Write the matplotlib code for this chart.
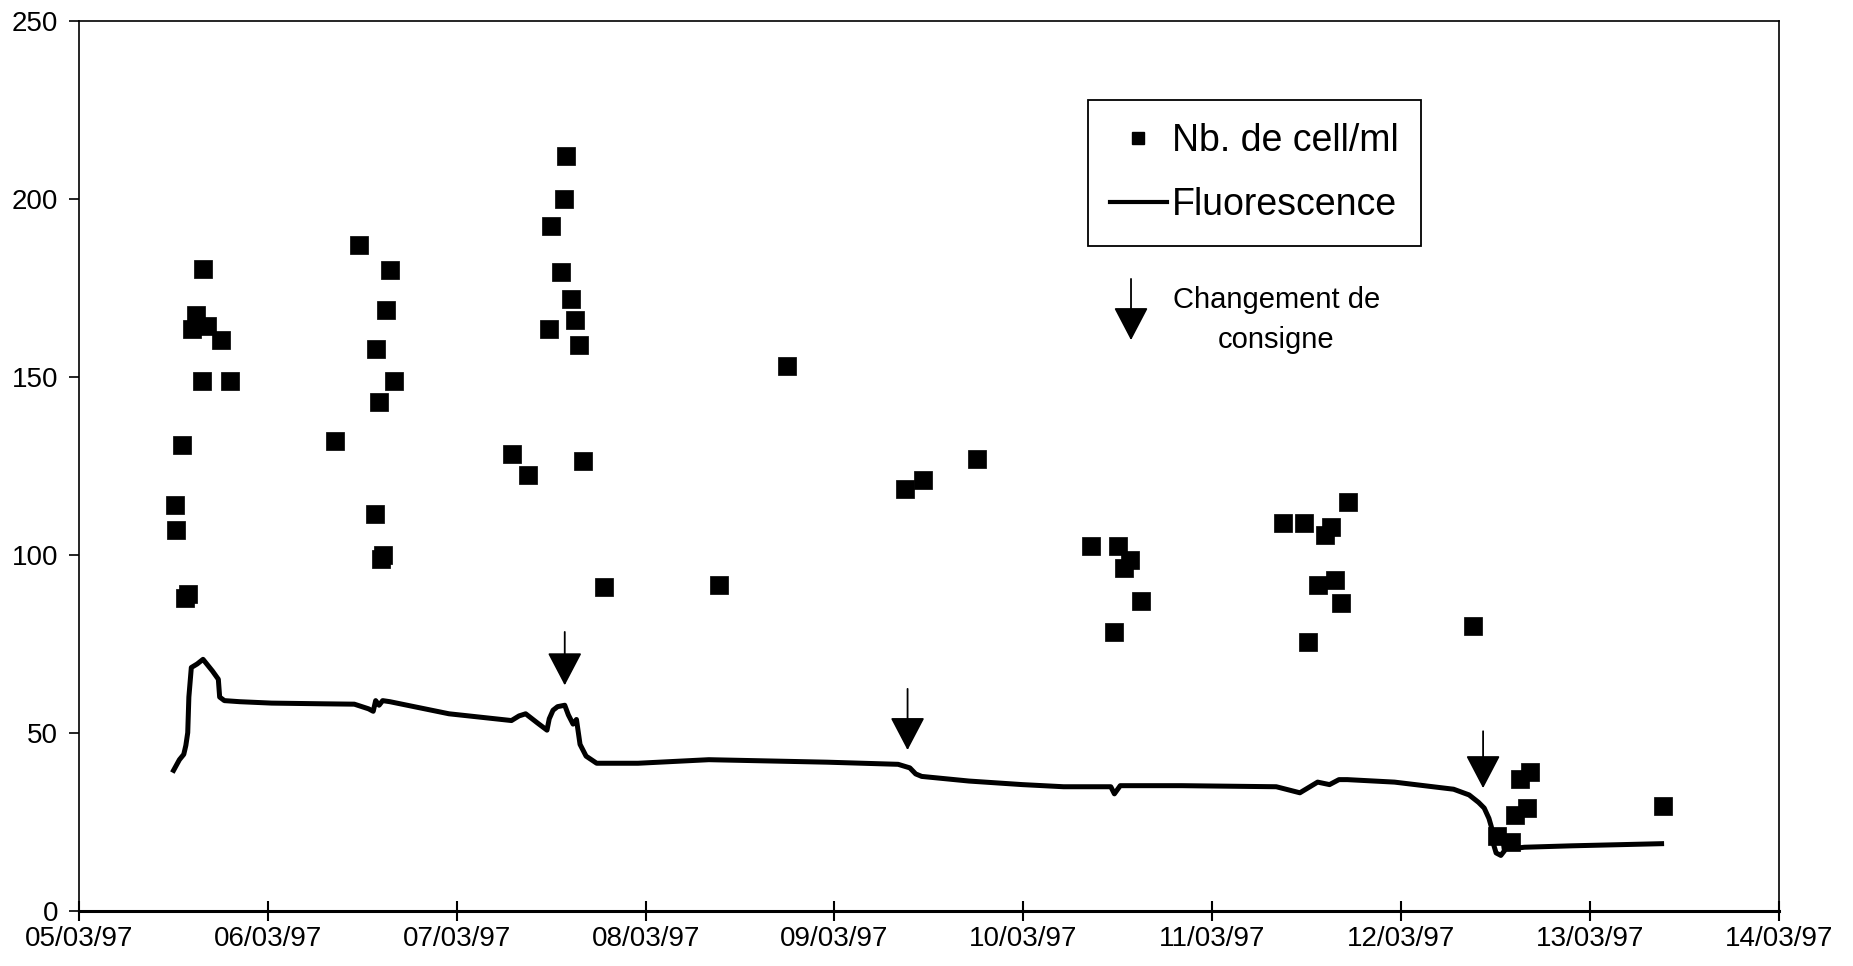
import matplotlib
matplotlib.use('Agg')
import matplotlib.pyplot as plt
import matplotlib.dates as mdates
from matplotlib.lines import Line2D
from datetime import datetime, timedelta

plt.rcParams['font.family'] = ['Liberation Sans Narrow', 'Liberation Sans', 'DejaVu Sans']

# jours (jour du mois de mars 1997, fractionnaire) et comptages
jour_cell = [5.507, 5.516, 5.543, 5.560, 5.575, 5.601, 5.619, 5.649, 5.657, 5.678, 5.751, 5.799,
             6.356, 6.483, 6.566, 6.572, 6.589, 6.600, 6.612, 6.628, 6.646, 6.669,
             7.292, 7.375, 7.488, 7.497, 7.553, 7.567, 7.578, 7.603, 7.626, 7.645, 7.669, 7.778,
             8.390, 8.748,
             9.374, 9.468, 9.756,
             10.356, 10.479, 10.499, 10.532, 10.564, 10.621,
             11.373, 11.487, 11.505, 11.561, 11.597, 11.627, 11.650, 11.680, 11.720,
             12.378, 12.509, 12.584, 12.603, 12.628, 12.666, 12.685, 13.386]
nb_cell = [114, 107, 131, 88, 89, 163.5, 167.5, 149, 180.5, 164.5, 160.5, 149,
           132, 187, 111.5, 158, 143, 99, 100, 169, 180, 149,
           128.5, 122.5, 163.5, 192.5, 179.5, 200, 212, 172, 166, 159, 126.5, 91,
           91.5, 153,
           118.5, 121, 127,
           102.5, 78.5, 102.5, 96.5, 98.5, 87,
           109, 109, 75.5, 91.5, 105.5, 108, 93, 86.5, 115,
           80, 21, 19.5, 27, 37, 29, 39, 29.5]

jour_fluo = [5.501, 5.532, 5.555, 5.566, 5.576, 5.582, 5.595, 5.626, 5.657, 5.707, 5.738, 5.745,
             5.770, 5.850, 6.020, 6.300, 6.458, 6.533, 6.558, 6.571, 6.589, 6.608, 6.646, 6.959,
             7.290, 7.330, 7.365, 7.428, 7.478, 7.490, 7.510, 7.534, 7.572, 7.591, 7.616, 7.634,
             7.653, 7.685, 7.741, 7.960, 8.335, 8.961, 9.337, 9.399, 9.430, 9.462, 9.712, 9.994,
             10.213, 10.463, 10.482, 10.513, 10.838, 11.339, 11.464, 11.558, 11.621, 11.671,
             11.715, 11.965, 12.278, 12.360, 12.410, 12.440, 12.465, 12.478, 12.490, 12.503,
             12.528, 12.547, 12.540, 12.566, 12.603, 12.653, 12.904, 13.379]
fluo = [39.5, 42.5, 44.0, 46.5, 50.1, 60.1, 68.4, 69.4, 70.7, 67.4, 65.1, 60.1,
        59.1, 58.8, 58.4, 58.2, 58.1, 56.8, 56.1, 59.1, 57.8, 59.1, 58.8, 55.4,
        53.5, 54.8, 55.4, 52.8, 50.8, 54.0, 56.4, 57.4, 57.8, 55.1, 52.5, 53.8,
        46.8, 43.5, 41.5, 41.5, 42.5, 41.8, 41.2, 40.2, 38.5, 37.8, 36.5, 35.5,
        34.9, 34.9, 32.9, 35.2, 35.2, 34.9, 33.2, 36.2, 35.5, 36.9, 36.9, 36.2,
        34.2, 32.6, 30.5, 28.9, 26.0, 23.6, 18.6, 16.3, 15.6, 16.9, 19.6, 19.3,
        17.6, 17.9, 18.3, 18.9]

# changements de consigne (fleches)
jour_consigne = [7.572, 9.387, 12.434]
haut_consigne = [78.4, 62.4, 50.5]
bas_consigne = [63.4, 45.2, 34.5]


def to_date(j):
    return datetime(1997, 3, 1) + timedelta(days=j - 1)


fig = plt.figure(figsize=(18.53, 9.66), dpi=100)
ax = fig.add_axes([0.0426, 0.057, 0.9174, 0.921])

ax.plot([to_date(j) for j in jour_fluo], fluo, color='black', lw=3.6,
        solid_joinstyle='round', zorder=3)
ax.scatter([to_date(j) for j in jour_cell], nb_cell, marker='s', s=150,
           color='black', edgecolors='black', linewidths=0.5, zorder=4)

fleche = dict(arrowstyle='-|>,head_length=2.1,head_width=1.1', mutation_scale=10,
              color='black', lw=1.3, shrinkA=0, shrinkB=0)
for j, h, b in zip(jour_consigne, haut_consigne, bas_consigne):
    ax.annotate('', xy=(to_date(j), b), xytext=(to_date(j), h), arrowprops=fleche)

# legende
h1 = Line2D([], [], marker='s', ls='none', color='black', markersize=8)
h2 = Line2D([], [], color='black', lw=3)
leg = ax.legend([h1, h2], ['Nb. de cell/ml', 'Fluorescence'], loc='upper left',
                bbox_to_anchor=(0.5935, 0.911), prop={'family': 'Liberation Sans', 'size': 27},
                frameon=True, fancybox=False, edgecolor='black', framealpha=1,
                handlelength=1.5, handletextpad=0.15, labelspacing=0.75, borderpad=0.6,
                borderaxespad=0)
leg.get_frame().set_linewidth(1.3)

ax.annotate('', xy=(to_date(10.57), 160.4), xytext=(to_date(10.57), 177.6), arrowprops=fleche)
ax.text(to_date(11.34), 166, 'Changement de\nconsigne', ha='center', va='center',
        fontsize=21, family='Liberation Sans', linespacing=1.55)

ax.set_ylim(0, 250)
ax.set_yticks([0, 50, 100, 150, 200, 250])
ax.set_xlim(to_date(5), to_date(14))
ax.xaxis.set_major_locator(mdates.DayLocator())
ax.xaxis.set_major_formatter(mdates.DateFormatter('%d/%m/%y'))

ax.tick_params(axis='y', direction='out', length=7, width=1.2, labelsize=20, pad=8)
ax.tick_params(axis='x', direction='inout', length=14, width=1.5, labelsize=20, pad=4)
for s in ['left', 'top', 'right']:
    ax.spines[s].set_linewidth(1.2)
ax.spines['bottom'].set_linewidth(2.2)

fig.savefig('out.png', dpi=100)
